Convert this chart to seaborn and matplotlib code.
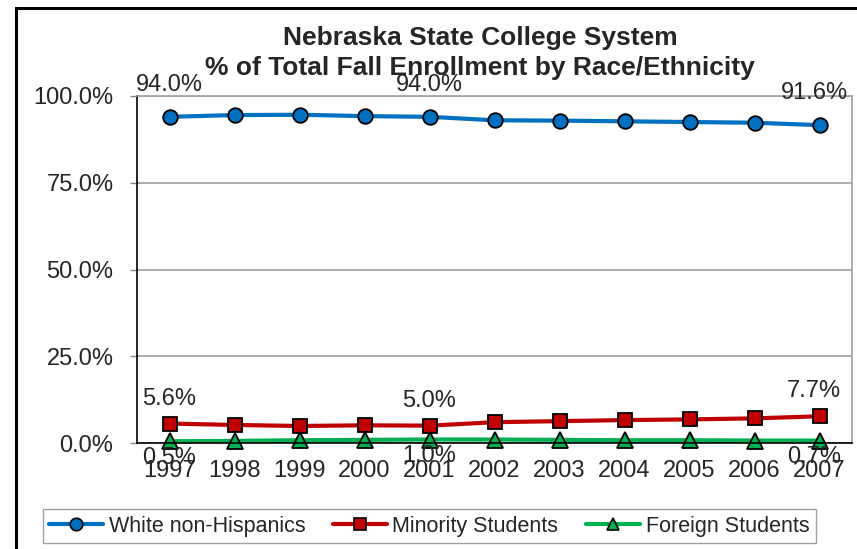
import numpy as np
import pandas as pd
import matplotlib
matplotlib.use("Agg")
import matplotlib.pyplot as plt
from matplotlib.lines import Line2D
from matplotlib.patches import Rectangle
import seaborn as sns

years = ["1997", "1998", "1999", "2000", "2001", "2002", "2003", "2004", "2005", "2006", "2007"]
white = [94.0, 94.5, 94.6, 94.2, 94.0, 93.0, 92.9, 92.7, 92.5, 92.3, 91.6]
minority = [5.6, 5.2, 4.9, 5.1, 5.0, 6.0, 6.3, 6.6, 6.8, 7.1, 7.7]
foreign = [0.5, 0.6, 0.8, 0.9, 1.0, 1.0, 0.9, 0.8, 0.8, 0.7, 0.7]
series_names = ["White non-Hispanics", "Minority Students", "Foreign Students"]
colors = ["#0070C0", "#C00000", "#00B050"]
markers = ["o", "s", "^"]
label_idx = [0, 4, 10]
y_ticks = [0, 25, 50, 75, 100]

sns.set_theme(style="white")
plt.rcParams['font.family'] = ['Liberation Sans', 'DejaVu Sans']

series_vals = [white, minority, foreign]
df = pd.DataFrame({
    "x": list(range(len(years))) * 3,
    "Value": white + minority + foreign,
    "Series": [s for s in series_names for _ in years],
})

fig = plt.figure(figsize=(8.57, 5.49), dpi=100)
ax = fig.add_axes([137/857, 1-443/549, (852-137)/857, (443-96)/549])

sns.lineplot(data=df, x="x", y="Value", hue="Series", style="Series",
             markers=dict(zip(series_names, markers)), dashes=False,
             palette=dict(zip(series_names, colors)), linewidth=3,
             markersize=10, markeredgecolor="black", markeredgewidth=1.3,
             ax=ax, legend=False)
msizes = {"o": 10.5, "s": 9.5, "^": 11}
for ln in ax.lines:
    ln.set_clip_on(False)
    m = ln.get_marker()
    if isinstance(m, str) and m in msizes:
        ln.set_markersize(msizes[m])

ax.set_xlim(-0.5, len(years) - 0.5)
ax.set_ylim(0, 100)
ax.set_yticks(y_ticks)
ax.set_yticklabels([f"{v:.1f}%" for v in y_ticks], fontsize=17)
ax.set_xticks(range(len(years)))
ax.set_xticklabels(years, fontsize=17)
ax.set_xticks(np.arange(-0.5, len(years)), minor=True)
ax.tick_params(axis="x", which="major", length=0, pad=12)
ax.tick_params(axis="x", which="minor", length=5, width=1, color="#555555", direction="out")
ax.tick_params(axis="y", which="major", length=5, width=1, color="#888888", direction="out", pad=12, left=True)
ax.set_xlabel("")
ax.set_ylabel("")
ax.yaxis.grid(True, color="#A0A0A0", linewidth=1.2)
ax.set_axisbelow(True)
for side in ["left", "bottom"]:
    ax.spines[side].set_color("black")
    ax.spines[side].set_linewidth(1.2)
for side in ["top", "right"]:
    ax.spines[side].set_color("#A0A0A0")
    ax.spines[side].set_linewidth(1.2)

offsets = [23, 18, -12]
for vals, off in zip(series_vals, offsets):
    for i in label_idx:
        dx = -4 if i == len(years) - 1 else 0
        ax.annotate(f"{vals[i]:.1f}%", (i, vals[i]), xytext=(dx, off),
                    textcoords="offset points", ha="center", va="center",
                    fontsize=17, annotation_clip=False, zorder=5)

fig.text(480/857, 1-38/549, "Nebraska State College System", ha="center", va="center",
         fontsize=19, fontweight="bold")
fig.text(480/857, 1-68/549, "% of Total Fall Enrollment by Race/Ethnicity", ha="center", va="center",
         fontsize=19, fontweight="bold")

handles = [Line2D([0], [0], color=c, marker=m, lw=3, markersize=9,
                  markeredgecolor="black", markeredgewidth=1.2)
           for c, m in zip(colors, markers)]
leg = fig.legend(handles, series_names, loc="lower left", bbox_to_anchor=(43/857, 1-543/549),
                 ncol=3, fontsize=15.5, frameon=True, fancybox=False, edgecolor="#888888",
                 handlelength=2.5, columnspacing=1.3, handletextpad=0.25, borderpad=0.3,
                 borderaxespad=0)
leg.get_frame().set_linewidth(1.0)

fig.patches.append(Rectangle((16/857, -0.2), 1.5, 1-8/549+0.2, transform=fig.transFigure,
                             fill=False, edgecolor="black", linewidth=2.2))

fig.savefig("out.png", dpi=100)
